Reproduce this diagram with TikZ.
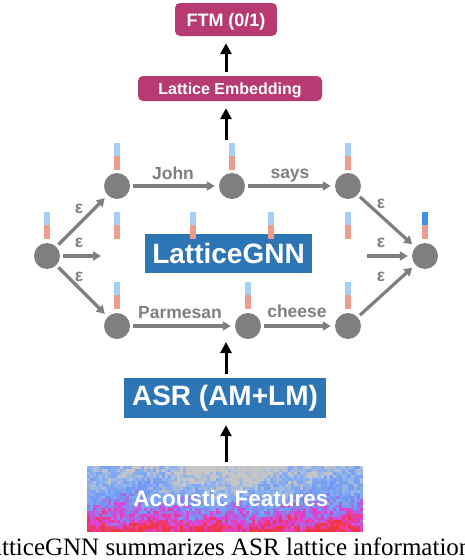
\documentclass[tikz,border=0pt]{standalone}
\usepackage{fontspec}
\setmainfont{Liberation Serif}
\setsansfont{Liberation Sans}
\usepackage{xcolor}
\usetikzlibrary{arrows.meta}

\definecolor{ftmpink}{HTML}{B83A72}
\definecolor{gnnblue}{HTML}{2E75B6}
\definecolor{edgegray}{HTML}{7F7F7F}
\definecolor{barblue}{HTML}{A6CFF6}
\definecolor{barred}{HTML}{EE9C90}
\definecolor{bardark}{HTML}{3C91EA}
\definecolor{sp0}{HTML}{C6C6C6}
\definecolor{sp1}{HTML}{86AEF2}
\definecolor{sp2}{HTML}{7098F2}
\definecolor{sp3}{HTML}{E040D8}
\definecolor{sp4}{HTML}{F2363C}

\begin{document}
\begin{tikzpicture}[x=1pt,y=-1pt,
		state/.style={circle,fill=edgegray,minimum size=26pt,inner sep=0pt},
		edge/.style={draw=edgegray,line width=3.2pt,-{Triangle[length=8pt,width=9pt]},shorten <=3pt,shorten >=4pt},
		lbl/.style={text=edgegray,font=\sffamily\bfseries\fontsize{17.5}{19}\selectfont,inner sep=0pt},
		flow/.style={line width=3pt,-{Triangle[length=11pt,width=11pt]},shorten <=4pt,shorten >=7pt},
		pinkbox/.style={fill=ftmpink,rounded corners=5pt,text=white,inner sep=0pt,text depth=0pt},
		bluebox/.style={fill=gnnblue,text=white,inner sep=0pt,font=\sffamily\bfseries\fontsize{28}{30}\selectfont}
	]
	\useasboundingbox (0,0) rectangle (464,560);
	\clip (0,0) rectangle (464,560);
	
	% spectrogram
	\begin{scope}
		\clip (87,466) rectangle (363,531);
		\pgfmathsetseed{11}
		\foreach \i in {0,...,91}{
			\foreach \j in {0,...,21}{
				\pgfmathsetmacro{\r}{\j/21}
				\pgfmathsetmacro{\v}{max(0,min(3.99,0.15+3.6*\r^1.3+0.6*sin(5*\i+30)*(1-\r)+0.3*sin(17*\i+25*\j)+1.5*(rnd-0.5)))}
				\pgfmathtruncatemacro{\k}{\v}
				\pgfmathtruncatemacro{\kk}{\k+1}
				\pgfmathtruncatemacro{\p}{100*(\k+1-\v)}
				\fill[sp\k!\p!sp\kk] (87+3*\i,466+3*\j) rectangle ++(3.4,3.4);
			}
		}
	\end{scope}
	\node[minimum width=276pt,minimum height=65pt,inner sep=0pt] (spec) at (225,498.5) {};
	\node[text=white,font=\sffamily\bfseries\fontsize{22.5}{24}\selectfont,inner sep=0pt] (acf) at (231,498) {Acoustic Features};
	
	\node[pinkbox,minimum width=102pt,minimum height=33pt,font=\sffamily\bfseries\fontsize{18}{20}\selectfont] (ftm) at (226,19.5) {FTM (0/1)};
	\node[pinkbox,minimum width=184pt,minimum height=25pt,font=\sffamily\bfseries\fontsize{16}{18}\selectfont] (emb) at (230,88.5) {Lattice Embedding};
	\node[bluebox,minimum width=167pt,minimum height=39pt] (gnn) at (228.5,253.5) {LatticeGNN};
	\node[bluebox,minimum width=202pt,minimum height=40pt] (asr) at (225,398) {ASR (AM+LM)};
	
	% lattice
	\node[state] (n0) at (47,256) {};
	\node[state] (t1) at (117,186) {};
	\node[state] (t2) at (232,186) {};
	\node[state] (t3) at (348,186) {};
	\node[state] (b1) at (117,326) {};
	\node[state] (b2) at (248,326) {};
	\node[state] (b3) at (348,326) {};
	\node[state] (n7) at (425,256) {};
	\coordinate (m1) at (105,256);
	\coordinate (m2) at (364,256);
	
	\foreach \bx/\by in {47/239,117/170,232/170,348/170,117/239,193/239,271/239,348/239,117/309,248/309,348/309}{
		\fill[barred] (\bx-3,\by) rectangle ++(6,-14);
		\fill[barblue] (\bx-3,\by-14) rectangle ++(6,-13);
	}
	\fill[barred] (422,239) rectangle ++(6,-14);
	\fill[bardark] (422,225) rectangle ++(6,-13);
	
	\draw[edge] (n0) -- (t1);
	\draw[edge] (n0) -- (m1);
	\draw[edge] (n0) -- (b1);
	\draw[edge] (t1) -- (t2);
	\draw[edge] (t2) -- (t3);
	\draw[edge] (b1) -- (b2);
	\draw[edge] (b2) -- (b3);
	\draw[edge] (t3) -- (n7);
	\draw[edge] (m2) -- (n7);
	\draw[edge] (b3) -- (n7);
	
	\node[lbl,anchor=base] (wjohn) at (173,179) {John};
	\node[lbl,anchor=base] (wsays) at (290,178) {says};
	\node[lbl,anchor=base] (wparm) at (180,318) {Parmesan};
	\node[lbl,anchor=base] (wcheese) at (297,317) {cheese};
	\node[lbl] (e1) at (79,209) {ε};
	\node[lbl] (e2) at (79,243) {ε};
	\node[lbl] (e3) at (79,277) {ε};
	\node[lbl] (e4) at (381,204) {ε};
	\node[lbl] (e5) at (381,243) {ε};
	\node[lbl] (e6) at (381,277) {ε};
	
	% flow
	\coordinate (lattop) at (226,144);
	\coordinate (latbot) at (226,335);
	\draw[flow] (emb.north -| ftm) -- (ftm);
	\draw[flow] (lattop) -- (lattop |- emb.south);
	\draw[flow] (asr.north -| latbot) -- (latbot);
	\draw[flow] (spec.north -| latbot) -- (latbot |- asr.south);
	
	\node[anchor=base west,font=\fontsize{25}{28}\selectfont,inner sep=0pt] (cap) at (-24.5,555) {LatticeGNN summarizes ASR lattice information};
\end{tikzpicture}
\end{document}
